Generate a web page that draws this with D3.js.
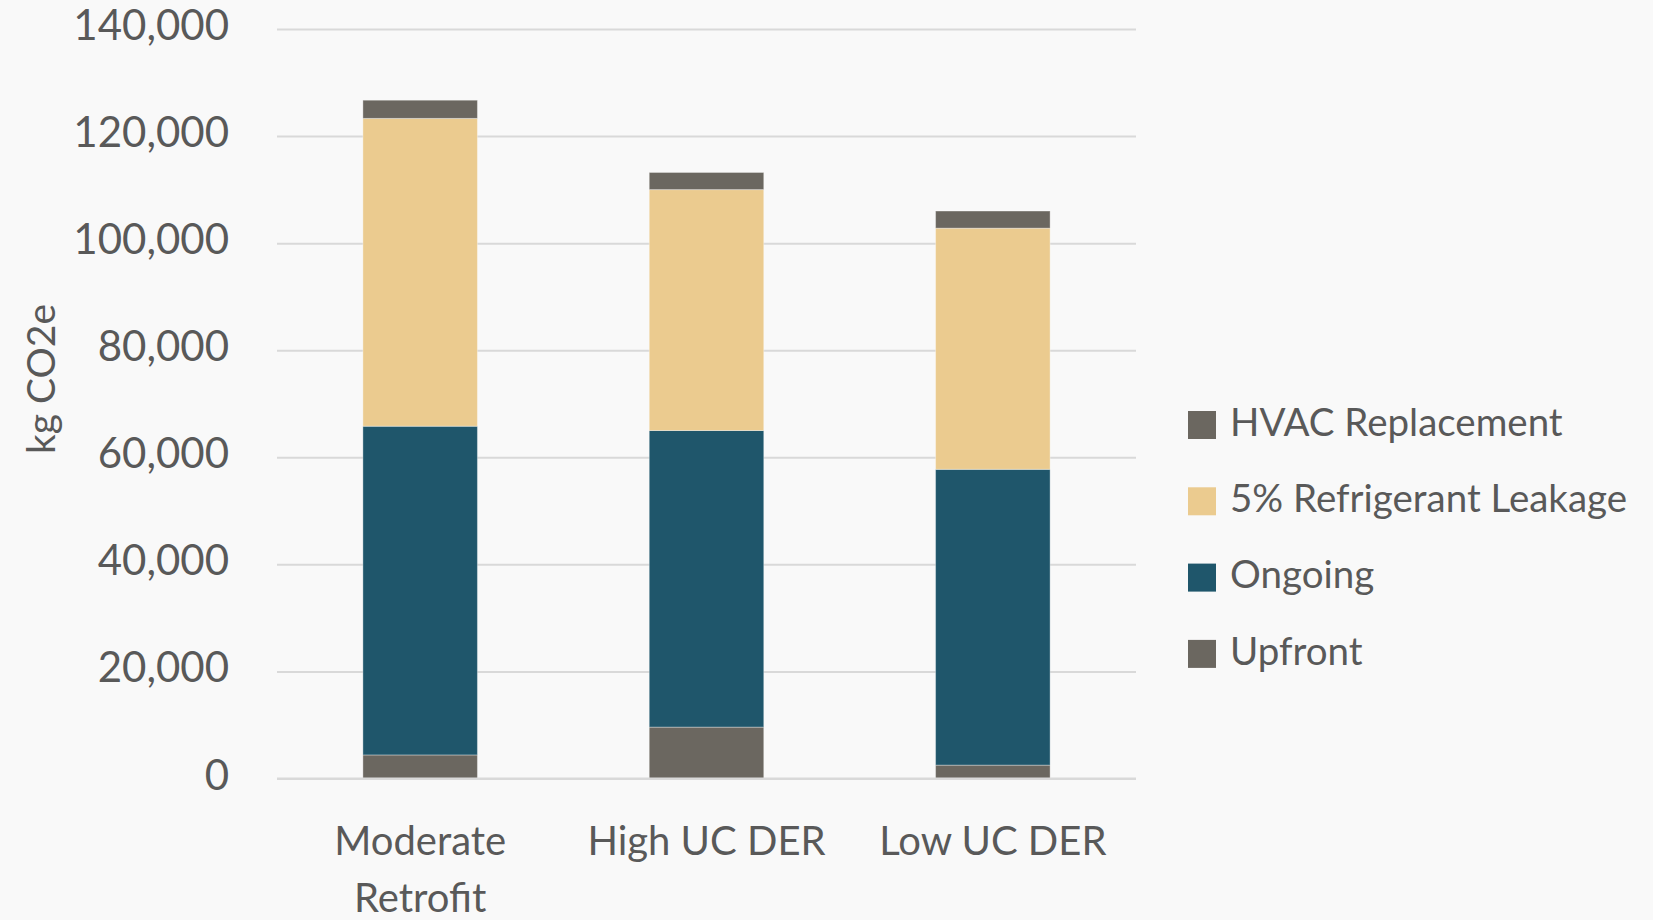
<!DOCTYPE html>
<html><head><meta charset="utf-8">
<script src="https://cdn.jsdelivr.net/npm/d3@7"></script>
<style>
html,body{margin:0;padding:0;background:#f9f9f9;}
svg{display:block;font-family:Lato,"Open Sans",sans-serif;}
</style></head>
<body>
<svg id="chart" width="1653" height="920"></svg>
<script>
const categories = ["Moderate Retrofit", "High UC DER", "Low UC DER"];
const categoryLines = [["Moderate", "Retrofit"], ["High UC DER"], ["Low UC DER"]];
const seriesNames = ["Upfront", "Ongoing", "5% Refrigerant Leakage", "HVAC Replacement"];
const upfront = [4400, 9600, 2500];
const ongoing = [61400, 55400, 55250];
const leakage = [57500, 45000, 45050];
const hvac = [3400, 3200, 3200];
const yTicks = [0, 20000, 40000, 60000, 80000, 100000, 120000, 140000];
const colors = ["#6b6760", "#1f566b", "#ebcb8f", "#6b6760"];
const yTitle = "kg CO2e";

(function () {
const svg = d3.select("#chart");
const pLeft = 277, pRight = 1136, pTop = 29, pBottom = 778.5;
const x = d3.scaleBand().domain(categories).range([pLeft, pRight]).paddingInner(0.6).paddingOuter(0.3);
const y = d3.scaleLinear().domain([0, 140000]).range([pBottom, pTop]);

const rows = categories.map((c, i) => ({cat: c, "Upfront": upfront[i], "Ongoing": ongoing[i], "5% Refrigerant Leakage": leakage[i], "HVAC Replacement": hvac[i]}));
const stack = d3.stack().keys(seriesNames)(rows);

// gridlines
const yAxis = d3.axisLeft(y).tickValues(yTicks).tickSize(-(pRight - pLeft)).tickFormat(d3.format(",")).tickPadding(48);
const g = svg.append("g").attr("transform", `translate(${pLeft},0)`).call(yAxis);
g.select(".domain").remove();
g.selectAll(".tick line").attr("stroke", "#d9d9d9").attr("stroke-width", 2);
g.selectAll(".tick text").attr("fill", "#595959").attr("font-size", 42).attr("font-family", "Lato, sans-serif").attr("dy", "0.25em");

// bars
svg.append("g").selectAll("g").data(stack).join("g")
  .attr("fill", (d, i) => colors[i])
  .selectAll("rect").data(d => d).join("rect")
  .attr("x", d => x(d.data.cat))
  .attr("width", x.bandwidth())
  .attr("y", d => y(d[1]))
  .attr("height", d => y(d[0]) - y(d[1]))
  .attr("stroke", "rgba(255,255,255,0.35)")
  .attr("stroke-width", 1);

// baseline
svg.append("line").attr("x1", pLeft).attr("x2", pRight).attr("y1", y(0)).attr("y2", y(0))
  .attr("stroke", "#d9d9d9").attr("stroke-width", 2);

// x labels
const xl = svg.append("g").selectAll("text").data(categories).join("text")
  .attr("x", d => x(d) + x.bandwidth() / 2)
  .attr("y", 855)
  .attr("text-anchor", "middle")
  .attr("fill", "#595959").attr("font-size", 40);
xl.each(function(d, i) {
  const t = d3.select(this);
  categoryLines[i].forEach((ln, j) => {
    t.append("tspan").attr("x", x(d) + x.bandwidth() / 2).attr("dy", j === 0 ? 0 : 57).text(ln);
  });
});

// y title
svg.append("text").attr("transform", "translate(55,379) rotate(-90)")
  .attr("text-anchor", "middle").attr("fill", "#595959").attr("font-size", 39).text(yTitle);

// legend
const legendOrder = ["HVAC Replacement", "5% Refrigerant Leakage", "Ongoing", "Upfront"];
const lg = svg.append("g").selectAll("g").data(legendOrder).join("g")
  .attr("transform", (d, i) => `translate(1188,${425 + i * 76.3})`);
lg.append("rect").attr("x", 0).attr("y", -14).attr("width", 28).attr("height", 28)
  .attr("fill", d => colors[seriesNames.indexOf(d)]);
lg.append("text").attr("x", 42).attr("y", 0).attr("dy", "0.28em")
  .attr("fill", "#595959").attr("font-size", 38.5).text(d => d);
})();
</script>
</body></html>
